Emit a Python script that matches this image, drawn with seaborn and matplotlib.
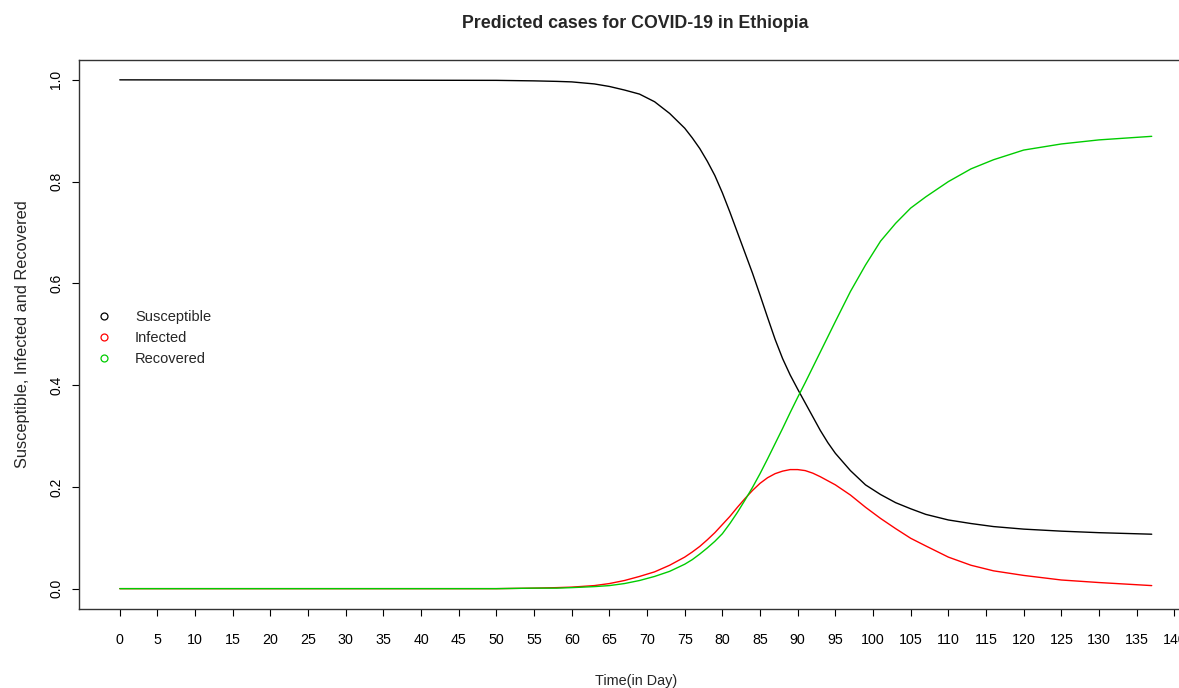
import numpy as np
import pandas as pd
import matplotlib
matplotlib.use("Agg")
import matplotlib.pyplot as plt
from matplotlib.lines import Line2D
import seaborn as sns

days = [0, 50, 55, 58, 60, 63, 65, 67, 69, 71, 73, 75, 76, 77, 78, 79, 80, 81, 82, 83, 84,
        85, 86, 87, 88, 89, 90, 91, 92, 93, 94, 95, 97, 99, 101, 103, 105, 107, 110, 113,
        116, 120, 125, 130, 137]
susceptible = [1.0, 0.999, 0.998, 0.997, 0.996, 0.992, 0.987, 0.980, 0.972, 0.957, 0.934,
               0.905, 0.886, 0.865, 0.840, 0.812, 0.778, 0.740, 0.700, 0.660, 0.620,
               0.577, 0.533, 0.490, 0.452, 0.420, 0.392, 0.365, 0.338, 0.311, 0.287, 0.266,
               0.232, 0.204, 0.185, 0.169, 0.157, 0.146, 0.135, 0.128, 0.122, 0.117,
               0.113, 0.110, 0.107]
infected = [0.0, 0.0, 0.001, 0.002, 0.003, 0.006, 0.010, 0.016, 0.024, 0.033, 0.046, 0.062,
            0.072, 0.083, 0.096, 0.110, 0.126, 0.142, 0.160, 0.177, 0.193,
            0.207, 0.218, 0.226, 0.231, 0.234, 0.234, 0.232, 0.227, 0.220, 0.212, 0.204,
            0.184, 0.160, 0.138, 0.118, 0.099, 0.084, 0.062, 0.046, 0.035, 0.026, 0.017,
            0.012, 0.006]
recovered = [0.0, 0.0, 0.001, 0.001, 0.002, 0.004, 0.006, 0.010, 0.016, 0.024, 0.034, 0.048,
             0.057, 0.068, 0.080, 0.093, 0.108, 0.128, 0.150, 0.174, 0.199,
             0.226, 0.255, 0.285, 0.315, 0.346, 0.376, 0.405, 0.435, 0.465, 0.495, 0.525,
             0.584, 0.636, 0.683, 0.718, 0.748, 0.770, 0.800, 0.825, 0.843, 0.862, 0.874,
             0.882, 0.889]
series_names = ["Susceptible", "Infected", "Recovered"]
series_colors = ["black", "#ff0000", "#00cc00"]
x_ticks = list(range(0, 141, 5))
y_ticks = [0.0, 0.2, 0.4, 0.6, 0.8, 1.0]

df = pd.DataFrame({
    "day": days * 3,
    "value": susceptible + infected + recovered,
    "series": sum([[n] * len(days) for n in series_names], []),
})

sns.set_style("white")
plt.rcParams["font.family"] = ["Liberation Sans", "DejaVu Sans"]

fig = plt.figure(figsize=(11.79, 6.88), dpi=100)
W, H = 1179, 688
left, right, top, bottom = 78.5, 1193, 59.5, 609
ax = fig.add_axes([left / W, 1 - bottom / H, (right - left) / W, (bottom - top) / H])

sns.lineplot(data=df, x="day", y="value", hue="series", hue_order=series_names,
             palette=dict(zip(series_names, series_colors)), linewidth=1.0,
             legend=False, ax=ax, sort=True)

ax.set_xlim(-5.48, 142.48)
ax.set_ylim(-0.04, 1.04)
ax.set_xticks(x_ticks)
ax.set_xticklabels([str(t) for t in x_ticks], fontsize=10.3)
ax.set_yticks(y_ticks)
ax.set_yticklabels([f"{t:.1f}" for t in y_ticks], fontsize=10, rotation=90, va="center")
ax.tick_params(axis="x", direction="out", length=5, width=0.8, pad=12.5, colors="black", bottom=True)
ax.tick_params(axis="y", direction="out", length=5, width=0.8, pad=6, colors="black", left=True)
for s in ax.spines.values():
    s.set_color("#333333")
    s.set_linewidth(1.0)
    s.set_visible(True)

ax.set_xlabel("Time(in Day)", fontsize=10.4, labelpad=19.5)
ax.set_ylabel("Susceptible, Infected and Recovered", fontsize=11.8, labelpad=14)
ax.set_title("Predicted cases for COVID-19 in Ethiopia", fontsize=12.8, fontweight="bold", pad=23)
ax.grid(False)

handles = [Line2D([], [], linestyle="none", marker="o", markersize=5, markerfacecolor="none",
                  markeredgecolor=c, markeredgewidth=0.9) for c in series_colors]
ax.legend(handles, series_names, loc="upper left", bbox_to_anchor=(97 / W, 1 - 310 / H),
          bbox_transform=fig.transFigure, frameon=False, fontsize=10.5, handlelength=1.0,
          handletextpad=1.6, labelspacing=0.48, borderpad=0, borderaxespad=0)

fig.savefig("out.png", dpi=100)
